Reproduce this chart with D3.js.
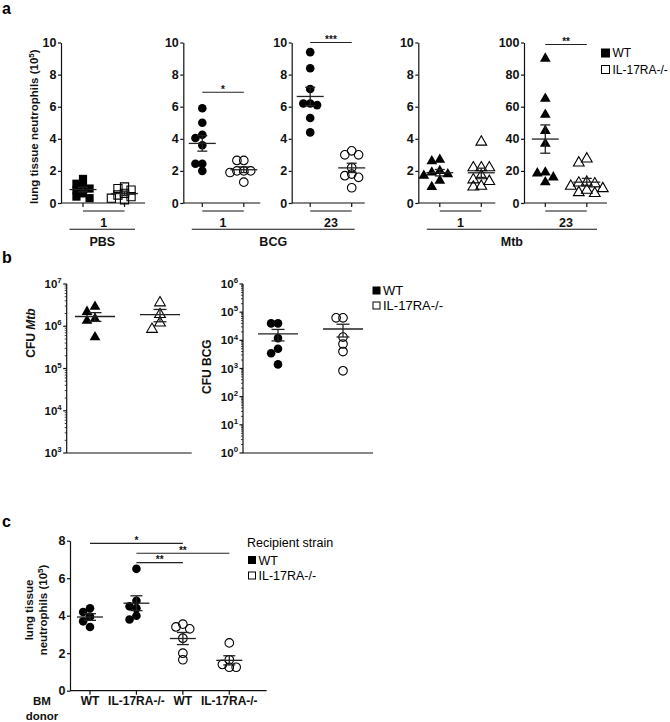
<!DOCTYPE html>
<html><head><meta charset="utf-8">
<script src="https://cdn.jsdelivr.net/npm/d3@7"></script>
<style>
body{margin:0;background:#fff}
svg{display:block}
text{font-family:"Liberation Sans",Arial,sans-serif}
</style>
</head><body>
<svg id="fig" width="670" height="722"></svg>
<script>
// ---------------- DATA ----------------
const strains = ["WT", "IL-17RA-/-"];

// Panel a: lung tissue neutrophils (10^5)
const pbs1WT  = [1.5, 1.2, 1.0, 0.9, 0.8, 0.6, 0.4, 0.3];
const pbs1KO  = [1.0, 0.9, 0.8, 0.6, 0.5, 0.4, 0.3, 0.2];
const bcg1WT  = [5.9, 5.0, 4.25, 4.05, 3.6, 2.45, 2.45, 2.0];
const bcg1KO  = [2.65, 2.65, 2.0, 2.0, 2.0, 1.9, 1.3];
const bcg23WT = [9.4, 8.4, 7.1, 6.2, 6.2, 6.1, 5.3, 4.4];
const bcg23KO = [3.25, 3.0, 3.0, 2.2, 1.8, 1.7, 1.6, 0.95];
const mtb1WT  = [2.7, 2.6, 2.0, 1.9, 1.8, 1.7, 1.4, 1.0];
const mtb1KO  = [3.8, 2.2, 2.2, 2.2, 1.7, 1.45, 1.35, 1.05, 1.0];
const mtb23WT = [90, 65, 55, 45, 37, 19, 18.5, 16, 13];
const mtb23KO = [27.5, 25, 13, 12.5, 12, 10.5, 9, 8, 6.5, 6];
const aDays = ["1", "1", "23", "1", "23"];
const aTreatmentNames = ["PBS", "BCG", "Mtb"];
const aTreatmentOf = [0, 1, 1, 2, 2];
const aMarkers = ["square", "circle", "circle", "triangle", "triangle"];
const aMax = [10, 10, 10, 10, 100];
const aTicks = [[0,2,4,6,8,10],[0,2,4,6,8,10],[0,2,4,6,8,10],[0,2,4,6,8,10],[0,20,40,60,80,100]];
const aSigPanel = [1, 2, 4];
const aSigLevel = [6.9, 10.0, 98.8];
const aSigLabel = ["*", "***", "**"];

// Panel b: CFU
const cfuMtbWT = [2.9e6, 2.2e6, 1.5e6, 1.35e6, 5.5e5];
const cfuMtbKO = [3.6e6, 1.9e6, 1.2e6, 8.5e5];
const cfuBcgWT = [4e4, 4e4, 1.2e4, 5e3, 3.5e3, 1.4e3];
const cfuBcgKO = [6.3e4, 6.3e4, 1.3e4, 7.4e3, 4e3, 8.3e2];
const bExpLeft = [3, 4, 5, 6, 7];
const bExpRight = [0, 1, 2, 3, 4, 5, 6];

// Panel c: BM chimeras
const cDonor = ["WT", "IL-17RA-/-", "WT", "IL-17RA-/-"];
const cRecipient = ["WT", "WT", "IL-17RA-/-", "IL-17RA-/-"];
const cVals = [
  [4.4, 4.2, 3.95, 3.7, 3.4],
  [6.5, 4.8, 4.5, 4.4, 4.0, 3.8],
  [3.55, 3.4, 3.3, 2.8, 2.0, 1.65],
  [2.55, 1.65, 1.4, 1.25, 1.25]
];
const cTicks = [0, 2, 4, 6, 8];
const cSigFrom = [0, 1, 1];
const cSigTo = [2, 3, 2];
const cSigLevel = [7.86, 7.33, 6.83];
const cSigLabel = ["*", "**", "**"];

// ---------------- DRAWING ----------------
const svg = d3.select("#fig");
const FONT = '"Liberation Sans", Arial, sans-serif';
const INK = "#111";

function markerPath(kind, size) {
  const area = kind === "square" ? size * size : kind === "circle" ? Math.PI * size * size / 4 : size * size * 0.5;
  const t = kind === "square" ? d3.symbolSquare : kind === "circle" ? d3.symbolCircle : d3.symbolTriangle;
  return d3.symbol().type(t).size(area)();
}

function swarm(vals, y, size) {
  const pts = vals.map(v => ({ v, py: y(v) })).sort((a, b) => a.py - b.py);
  const placed = [];
  const step = size * 0.8, thr = size * 0.72;
  pts.forEach(p => {
    for (let k = 0; k < 30; k++) {
      const off = k === 0 ? 0 : (k % 2 ? -1 : 1) * Math.ceil(k / 2) * step;
      if (!placed.some(q => Math.abs(q.py - p.py) < thr && Math.abs(q.off - off) < thr)) { p.off = off; break; }
    }
    placed.push(p);
  });
  return pts;
}

function drawGroup(g, vals, cx, y, kind, filled, size) {
  const pts = swarm(vals, y, size);
  const d = markerPath(kind, size);
  g.append("g").selectAll("path").data(pts).join("path")
    .attr("d", d)
    .attr("transform", p => `translate(${cx + p.off},${p.py})`)
    .attr("fill", filled ? "#000" : "none")
    .attr("stroke", "#000")
    .attr("stroke-width", filled ? 0 : 1.1);
}

function drawMean(g, vals, cx, y, meanW, capW) {
  const m = d3.mean(vals), s = d3.deviation(vals) / Math.sqrt(vals.length);
  const gg = g.append("g").attr("stroke", "#222").attr("stroke-width", 1.3);
  gg.append("line").attr("x1", cx - meanW / 2).attr("x2", cx + meanW / 2).attr("y1", y(m)).attr("y2", y(m));
  gg.append("line").attr("x1", cx).attr("x2", cx).attr("y1", y(m - s)).attr("y2", y(m + s));
  [m - s, m + s].forEach(v => gg.append("line").attr("x1", cx - capW / 2).attr("x2", cx + capW / 2).attr("y1", y(v)).attr("y2", y(v)));
}

function yAxisLinear(g, axisX, y, ticks, fs) {
  const ax = g.append("g").attr("transform", `translate(${axisX},0)`)
    .call(d3.axisLeft(y).tickValues(ticks).tickSize(3).tickSizeOuter(0).tickPadding(1.5));
  ax.selectAll("path,line").attr("stroke", INK).attr("stroke-width", 1.2);
  ax.selectAll("text").attr("font-family", FONT).attr("font-size", fs).attr("font-weight", "bold").attr("fill", INK);
}

function xAxisLine(g, x1, x2, y0, tickXs) {
  g.append("line").attr("x1", x1).attr("x2", x2).attr("y1", y0).attr("y2", y0).attr("stroke", INK).attr("stroke-width", 1.2);
  tickXs.forEach(tx => g.append("line").attr("x1", tx).attr("x2", tx).attr("y1", y0).attr("y2", y0 + 4).attr("stroke", INK).attr("stroke-width", 1.2));
}

function sigBar(g, x1, x2, yy, label) {
  g.append("line").attr("x1", x1).attr("x2", x2).attr("y1", yy).attr("y2", yy).attr("stroke", "#222").attr("stroke-width", 1.1);
  g.append("text").attr("x", (x1 + x2) / 2).attr("y", yy + 0.5).attr("text-anchor", "middle")
    .attr("font-size", 10).attr("font-weight", "bold").attr("fill", INK).text(label);
}

function panelLetter(x, y, t) {
  svg.append("text").attr("x", x).attr("y", y).attr("font-size", 16).attr("font-weight", "bold").attr("fill", "#000").text(t);
}

function legend(g, x, y, rowH, sq, fs, items) {
  items.forEach((it, i) => {
    g.append("rect").attr("x", x + 0.5).attr("y", y + i * rowH + 0.5).attr("width", sq - 1).attr("height", sq - 1)
      .attr("fill", it.filled ? "#000" : "#fff").attr("stroke", "#000").attr("stroke-width", 1);
    g.append("text").attr("x", x + sq + 2.5).attr("y", y + i * rowH + sq * 0.5 + fs * 0.36)
      .attr("font-size", fs).attr("fill", "#000").text(it.label);
  });
}

function supText(g, x, y, anchor, fs, base, sup, extra) {
  const t = g.append("text").attr("x", x).attr("y", y).attr("text-anchor", anchor)
    .attr("font-size", fs).attr("font-weight", "bold").attr("fill", INK);
  t.append("tspan").text(base);
  t.append("tspan").attr("dy", -fs * 0.42).attr("font-size", fs * 0.68).text(sup);
  if (extra) t.append("tspan").attr("dy", fs * 0.42).text(extra);
  return t;
}

// ===== Panel a =====
panelLetter(2, 14, "a");
const aData = [[pbs1WT, pbs1KO], [bcg1WT, bcg1KO], [bcg23WT, bcg23KO], [mtb1WT, mtb1KO], [mtb23WT, mtb23KO]];
const aAxisX = [61, 183.3, 291.7, 418.3, 524];
const aWidth = [84, 77, 73, 77, 83];
const aPadL = [22, 19, 18.5, 21.5, 21.3];
const aTop = 42.5, aBottom = 203;
const ga = svg.append("g");
const aX = aData.map((_, i) => d3.scalePoint().domain(strains).range([aAxisX[i] + aPadL[i], aAxisX[i] + aPadL[i] + 41.5]));
aData.forEach((pair, i) => {
  const y = d3.scaleLinear().domain([0, aMax[i]]).range([aBottom, aTop]);
  yAxisLinear(ga, aAxisX[i], y, aTicks[i], 12.5);
  const xs = strains.map(s => aX[i](s));
  xAxisLine(ga, aAxisX[i], aAxisX[i] + aWidth[i], aBottom, xs);
  ga.append("line").attr("x1", xs[0]).attr("x2", xs[1]).attr("y1", 211).attr("y2", 211).attr("stroke", INK).attr("stroke-width", 1.1);
  ga.append("text").attr("x", (xs[0] + xs[1]) / 2).attr("y", 226.5).attr("text-anchor", "middle")
    .attr("font-size", 12.5).attr("font-weight", "bold").attr("fill", INK).text(aDays[i]);
  const size = aMarkers[i] === "triangle" ? 10 : aMarkers[i] === "circle" ? 8.6 : 8.2;
  drawGroup(ga, pair[0], xs[0], y, aMarkers[i], true, size);
  drawGroup(ga, pair[1], xs[1], y, aMarkers[i], false, size);
  drawMean(ga, pair[0], xs[0], y, 27, 10);
  drawMean(ga, pair[1], xs[1], y, 27, 10);
  const si = aSigPanel.indexOf(i);
  if (si >= 0) sigBar(ga, xs[0], xs[1], y(aSigLevel[si]), aSigLabel[si]);
});
aTreatmentNames.forEach((name, t) => {
  const idx = aTreatmentOf.map((v, i) => v === t ? i : -1).filter(i => i >= 0);
  const x1 = aAxisX[idx[0]] + 8.5, x2 = aAxisX[idx[idx.length - 1]] + aWidth[idx[idx.length - 1]] - 10;
  ga.append("line").attr("x1", x1).attr("x2", x2).attr("y1", 229.3).attr("y2", 229.3).attr("stroke", INK).attr("stroke-width", 1.1);
  ga.append("text").attr("x", (x1 + x2) / 2).attr("y", 245.5).attr("text-anchor", "middle")
    .attr("font-size", 12.5).attr("font-weight", "bold").attr("fill", INK).text(name);
});
(function () {
  const t = ga.append("text").attr("transform", "rotate(-90)").attr("x", -126.7).attr("y", 38).attr("text-anchor", "middle")
    .attr("font-size", 11.5).attr("font-weight", "bold").attr("fill", INK);
  t.append("tspan").text("lung tissue neutrophils (10");
  t.append("tspan").attr("dy", -4.5).attr("font-size", 8).text("5");
  t.append("tspan").attr("dy", 4.5).text(")");
})();
legend(ga, 601, 48.5, 16.5, 9, 12, [{ label: strains[0], filled: true }, { label: strains[1], filled: false }]);

// ===== Panel b =====
panelLetter(2, 263, "b");
const gb = svg.append("g");
const bTop = 284, bBottom = 453;
const bPanels = [
  { axisX: 66.7, xEnd: 191.7, dom: [1e3, 1e7], exps: bExpLeft, wt: cfuMtbWT, ko: cfuMtbKO, kind: "triangle", xs: [95, 160] },
  { axisX: 243, xEnd: 373, dom: [1, 1e6], exps: bExpRight, wt: cfuBcgWT, ko: cfuBcgKO, kind: "circle", xs: [278, 343] }
];
bPanels.forEach((p, k) => {
  const y = d3.scaleLog().domain(p.dom).range([bBottom, bTop]);
  const x = d3.scalePoint().domain(strains).range(p.xs);
  gb.append("line").attr("x1", p.axisX).attr("x2", p.axisX).attr("y1", bTop).attr("y2", bBottom).attr("stroke", INK).attr("stroke-width", 1.2);
  gb.append("line").attr("x1", p.axisX).attr("x2", p.xEnd).attr("y1", bBottom).attr("y2", bBottom).attr("stroke", INK).attr("stroke-width", 1.2);
  p.exps.forEach((e, j) => {
    const v = Math.pow(10, e);
    gb.append("line").attr("x1", p.axisX - 3.5).attr("x2", p.axisX).attr("y1", y(v)).attr("y2", y(v)).attr("stroke", INK).attr("stroke-width", 1.2);
    supText(gb, p.axisX - 5, y(v) + 4, "end", 11.5, "10", String(e));
    if (j < p.exps.length - 1) {
      for (let m = 2; m <= 9; m++) {
        gb.append("line").attr("x1", p.axisX - 2).attr("x2", p.axisX).attr("y1", y(m * v)).attr("y2", y(m * v)).attr("stroke", INK).attr("stroke-width", 0.8);
      }
    }
  });
  const size = p.kind === "triangle" ? 10 : 8.6;
  drawGroup(gb, p.wt, x(strains[0]), y, p.kind, true, size);
  drawGroup(gb, p.ko, x(strains[1]), y, p.kind, false, size);
  drawMean(gb, p.wt, x(strains[0]), y, 40, 13);
  drawMean(gb, p.ko, x(strains[1]), y, 40, 13);
});
(function () {
  const t1 = gb.append("text").attr("transform", "rotate(-90)").attr("x", -333).attr("y", 35).attr("text-anchor", "middle")
    .attr("font-size", 12).attr("font-weight", "bold").attr("fill", INK);
  t1.append("tspan").text("CFU ");
  t1.append("tspan").attr("font-style", "italic").text("Mtb");
  gb.append("text").attr("transform", "rotate(-90)").attr("x", -366.7).attr("y", 211).attr("text-anchor", "middle")
    .attr("font-size", 12).attr("font-weight", "bold").attr("fill", INK).text("CFU BCG");
})();
legend(gb, 372.5, 286.5, 15, 8, 13, [{ label: strains[0], filled: true }, { label: strains[1], filled: false }]);

// ===== Panel c =====
panelLetter(2, 527, "c");
const gc = svg.append("g");
const cAxisX = 70, cEnd = 266.7, cTop = 540.7, cBottom = 690.7;
const cy = d3.scaleLinear().domain([0, 8]).range([cBottom, cTop]);
const cx = d3.scalePoint().domain(d3.range(cVals.length)).range([90, 229.3]);
yAxisLinear(gc, cAxisX, cy, cTicks, 12.5);
xAxisLine(gc, cAxisX, cEnd, cBottom, d3.range(cVals.length).map(i => cx(i)));
cVals.forEach((vals, i) => {
  const filled = cRecipient[i] === strains[0];
  drawGroup(gc, vals, cx(i), cy, "circle", filled, 8.6);
  drawMean(gc, vals, cx(i), cy, 26, 12);
  gc.append("text").attr("x", cx(i)).attr("y", 705).attr("text-anchor", "middle")
    .attr("font-size", 12).attr("font-weight", "bold").attr("fill", INK).text(cDonor[i]);
});
cSigFrom.forEach((f, k) => sigBar(gc, cx(f), cx(cSigTo[k]), cy(cSigLevel[k]), cSigLabel[k]));
gc.append("text").attr("x", 42).attr("y", 704.5).attr("text-anchor", "middle").attr("font-size", 11.5).attr("font-weight", "bold").attr("fill", INK).text("BM");
gc.append("text").attr("x", 42).attr("y", 719.5).attr("text-anchor", "middle").attr("font-size", 11.5).attr("font-weight", "bold").attr("fill", INK).text("donor");
(function () {
  gc.append("text").attr("transform", "rotate(-90)").attr("x", -610).attr("y", 33).attr("text-anchor", "middle")
    .attr("font-size", 11.5).attr("font-weight", "bold").attr("fill", INK).text("lung tissue");
  const t = gc.append("text").attr("transform", "rotate(-90)").attr("x", -610).attr("y", 47).attr("text-anchor", "middle")
    .attr("font-size", 11.5).attr("font-weight", "bold").attr("fill", INK);
  t.append("tspan").text("neutrophils (10");
  t.append("tspan").attr("dy", -4.5).attr("font-size", 8).text("5");
  t.append("tspan").attr("dy", 4.5).text(")");
})();
gc.append("text").attr("x", 247).attr("y", 547).attr("font-size", 12.5).attr("fill", "#000").text("Recipient strain");
legend(gc, 248, 556, 15.5, 8, 12.5, [{ label: strains[0], filled: true }, { label: strains[1], filled: false }]);
</script>
</body></html>
